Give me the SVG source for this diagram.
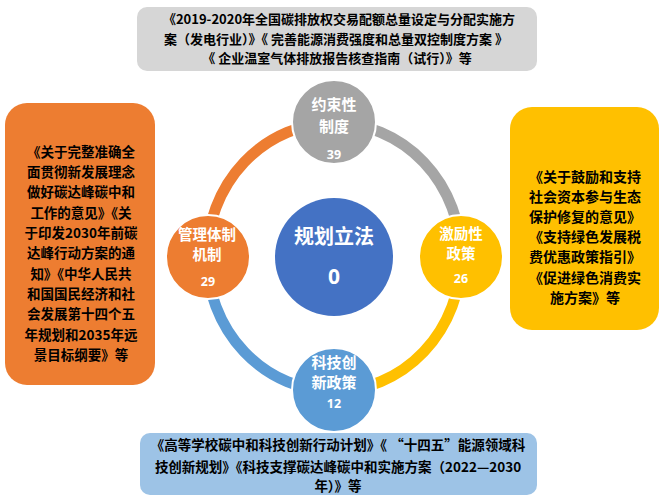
<svg xmlns="http://www.w3.org/2000/svg" width="665" height="500" viewBox="0 0 665 500">
<style>
.t{font-family:"Noto Sans CJK SC","Liberation Sans",sans-serif;font-weight:bold;fill:#000;text-anchor:middle}
.w{font-family:"Noto Sans CJK SC","Liberation Sans",sans-serif;font-weight:bold;fill:#fff;text-anchor:middle}
.n{font-family:"Open Sans","Liberation Sans",sans-serif;font-weight:bold;fill:#fff;text-anchor:middle;font-size:12.5px}
.ring{fill:none;stroke-width:11}
.node{stroke:#fff;stroke-width:2}
</style>
<rect width="665" height="500" fill="#fff"/>
<g id="box-top">
<rect x="137" y="7" width="400" height="64" rx="10" fill="#D6D6D6"/>
<text class="t" font-size="13" x="339" y="24">《2019-2020年全国碳排放权交易配额总量设定与分配实施方</text>
<text class="t" font-size="13" x="336" y="44">案（发电行业）》《 完善能源消费强度和总量双控制度方案 》</text>
<text class="t" font-size="13" x="337" y="63">《 企业温室气体排放报告核查指南（试行）》等</text>
</g>
<g id="box-left">
<rect x="5" y="103" width="150" height="282" rx="22" fill="#ED7D31"/>
<g class="t" font-size="13.5">
<text x="81" y="157">《关于完整准确全</text>
<text x="81" y="177">面贯彻新发展理念</text>
<text x="81" y="197">做好碳达峰碳中和</text>
<text x="81" y="218">工作的意见》《关</text>
<text x="81" y="238">于印发2030年前碳</text>
<text x="81" y="258">达峰行动方案的通</text>
<text x="81" y="279">知》《中华人民共</text>
<text x="81" y="299">和国国民经济和社</text>
<text x="81" y="319">会发展第十四个五</text>
<text x="81" y="340">年规划和2035年远</text>
<text x="81" y="360">景目标纲要》等</text>
</g>
</g>
<g id="box-right">
<rect x="510" y="107" width="149" height="223" rx="22" fill="#FFC000"/>
<g class="t" font-size="14">
<text x="585" y="182">《关于鼓励和支持</text>
<text x="585" y="202">社会资本参与生态</text>
<text x="585" y="222">保护修复的意见》</text>
<text x="585" y="242">《支持绿色发展税</text>
<text x="585" y="262">费优惠政策指引》</text>
<text x="585" y="283">《促进绿色消费实</text>
<text x="585" y="303">施方案》等</text>
</g>
</g>
<g id="box-bottom">
<rect x="140" y="433" width="397" height="62" rx="10" fill="#9DC3E6"/>
<g class="t" font-size="13.5">
<text x="338" y="450">《高等学校碳中和科技创新行动计划》《 “十四五”能源领域科</text>
<text x="338" y="472">技创新规划》《科技支撑碳达峰碳中和实施方案（2022—2030</text>
<text x="338" y="491">年）》等</text>
</g>
</g>
<g id="connectors">
<path class="ring" stroke="#A5A5A5" d="M334,123 A127,134 0 0 1 461,257"/>
<path class="ring" stroke="#FFC000" d="M461,257 A127,134 0 0 1 334,391"/>
<path class="ring" stroke="#5B9BD5" d="M334,391 A127,134 0 0 1 207,257"/>
<path class="ring" stroke="#ED7D31" d="M207,257 A127,134 0 0 1 334,123"/>
</g>
<g id="node-center">
<circle cx="334" cy="257" r="59" fill="#4472C4"/>
<text class="w" font-size="20" x="334" y="244">规划立法</text>
<text class="w" font-size="21" x="334" y="284" style="font-family:'Open Sans','Liberation Sans',sans-serif">0</text>
</g>
<g id="node-top">
<circle class="node" cx="334" cy="122" r="42" fill="#A5A5A5"/>
<text class="w" font-size="15" x="334" y="110">约束性</text>
<text class="w" font-size="15" x="334" y="132">制度</text>
<text class="n" x="334" y="159">39</text>
</g>
<g id="node-right">
<circle class="node" cx="461" cy="257" r="42" fill="#FFC000"/>
<text class="w" font-size="14.5" x="461" y="239">激励性</text>
<text class="w" font-size="14.5" x="461" y="259">政策</text>
<text class="n" x="461" y="283">26</text>
</g>
<g id="node-bottom">
<circle class="node" cx="334" cy="390" r="42" fill="#5B9BD5"/>
<text class="w" font-size="15" x="334" y="368">科技创</text>
<text class="w" font-size="15" x="334" y="388">新政策</text>
<text class="n" x="334" y="408">12</text>
</g>
<g id="node-left">
<circle class="node" cx="208" cy="257" r="42" fill="#ED7D31"/>
<text class="w" font-size="14.5" x="207" y="240">管理体制</text>
<text class="w" font-size="14.5" x="207" y="260">机制</text>
<text class="n" x="208" y="286">29</text>
</g>
</svg>
